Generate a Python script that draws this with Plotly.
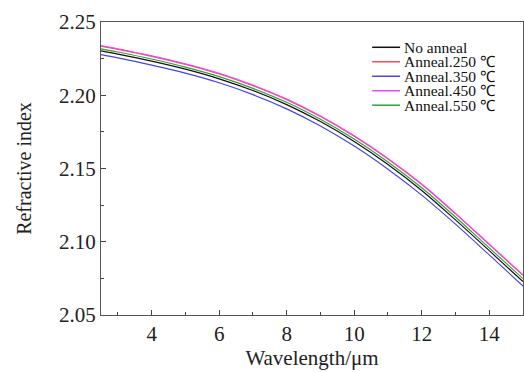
import plotly.graph_objects as go

wavelength = [2.5, 3, 4, 5, 6, 7, 8, 9, 10, 11, 12, 13, 14, 15]
no_anneal = [2.2303, 2.2281, 2.2233, 2.2178, 2.2112, 2.2032, 2.1936, 2.1820, 2.1684, 2.1527, 2.1350, 2.1149, 2.0939, 2.0728]
anneal_250 = [2.2335, 2.2313, 2.2265, 2.2210, 2.2145, 2.2065, 2.1970, 2.1855, 2.1720, 2.1565, 2.1390, 2.1190, 2.0980, 2.0770]
anneal_350 = [2.2277, 2.2255, 2.2206, 2.2151, 2.2085, 2.2004, 2.1907, 2.1790, 2.1653, 2.1495, 2.1318, 2.1120, 2.0910, 2.0698]
anneal_450 = [2.2339, 2.2317, 2.2269, 2.2214, 2.2149, 2.2069, 2.1974, 2.1859, 2.1724, 2.1569, 2.1394, 2.1194, 2.0984, 2.0774]
anneal_550 = [2.2317, 2.2295, 2.2247, 2.2192, 2.2127, 2.2047, 2.1952, 2.1836, 2.1701, 2.1545, 2.1369, 2.1169, 2.0958, 2.0748]

series_names = ["No anneal", "Anneal.250 ℃", "Anneal.350 ℃", "Anneal.450 ℃", "Anneal.550 ℃"]
series_values = [no_anneal, anneal_250, anneal_350, anneal_450, anneal_550]
series_colors = ["#111111", "#f0505a", "#4545e8", "#f045f0", "#349c3e"]

x_ticks = [4, 6, 8, 10, 12, 14]
y_ticks = [2.05, 2.10, 2.15, 2.20, 2.25]
y_tick_labels = ["2.05", "2.10", "2.15", "2.20", "2.25"]

FONT = "Liberation Serif"

fig = go.Figure()
for name, vals, col in zip(series_names, series_values, series_colors):
    fig.add_trace(go.Scatter(x=wavelength, y=vals, mode="lines", name=name,
                             line=dict(color=col, width=1.15, shape="spline"),
                             showlegend=False))

# manual legend (tight row spacing like the reference)
leg_x0, leg_x1, leg_tx = 0.6425, 0.7087, 0.7135
leg_y = [0.9137, 0.8643, 0.8148, 0.7654, 0.7160]
for name, col, yy in zip(series_names, series_colors, leg_y):
    fig.add_shape(type="line", xref="paper", yref="paper", x0=leg_x0, x1=leg_x1,
                  y0=yy, y1=yy, line=dict(color=col, width=1.5))
    fig.add_annotation(xref="paper", yref="paper", x=leg_tx, y=yy, text=name,
                       showarrow=False, xanchor="left", yanchor="middle",
                       font=dict(family=FONT, size=15.5, color="#111"))

axis_common = dict(showline=True, mirror=True, linecolor="#555", linewidth=1.3,
                   showgrid=False, zeroline=False, ticks="inside", ticklen=5,
                   tickwidth=1, tickcolor="#444",
                   tickfont=dict(family=FONT, size=21, color="#222"))

fig.update_xaxes(range=[2.5, 15], tickvals=x_ticks,
                 minor=dict(ticks="inside", ticklen=3, dtick=1, tick0=0, tickcolor="#444"),
                 title=dict(text="Wavelength/μm", font=dict(family=FONT, size=21, color="#222"), standoff=0),
                 **axis_common)
fig.update_yaxes(range=[2.05, 2.25], tickvals=y_ticks, ticktext=y_tick_labels,
                 minor=dict(ticks="inside", ticklen=3, dtick=0.025, tick0=2.05, tickcolor="#444"),
                 title=dict(text="Refractive index", font=dict(family=FONT, size=20, color="#222"), standoff=21),
                 **axis_common)

fig.update_layout(width=524, height=372, margin=dict(l=101, r=1, t=22, b=57, autoexpand=False),
                  paper_bgcolor="white", plot_bgcolor="white", showlegend=False)

fig.write_html("out.html")
